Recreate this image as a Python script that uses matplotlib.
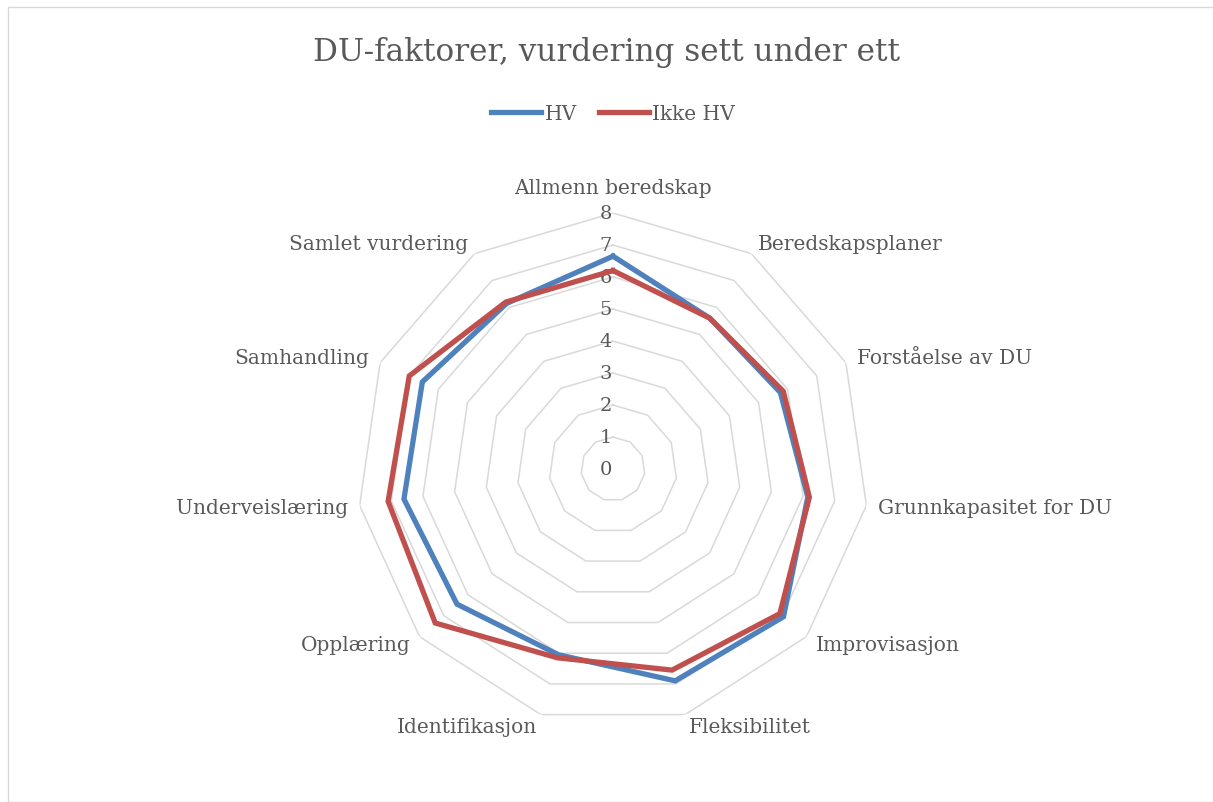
import numpy as np
import matplotlib
matplotlib.use('Agg')
import matplotlib.pyplot as plt
from matplotlib.patches import Rectangle

# Data
kategorier = ['Allmenn beredskap', 'Beredskapsplaner', 'Forståelse av DU',
              'Grunnkapasitet for DU', 'Improvisasjon', 'Fleksibilitet',
              'Identifikasjon', 'Opplæring', 'Underveislæring',
              'Samhandling', 'Samlet vurdering']
hv = [6.65, 5.6, 5.75, 6.15, 7.05, 6.9, 6.05, 6.45, 6.6, 6.55, 6.15]
ikke_hv = [6.2, 5.6, 5.85, 6.2, 6.9, 6.55, 6.15, 7.35, 7.1, 7.0, 6.2]
ringer = [1, 2, 3, 4, 5, 6, 7, 8]
ring_etiketter = ['0', '1', '2', '3', '4', '5', '6', '7', '8']

tekstfarge = '#595959'
plt.rcParams['font.family'] = ['DejaVu Serif']

fig = plt.figure(figsize=(12.13, 8.03), dpi=100)
fig.patches.append(Rectangle((8 / 1213, 0), 1, 1 - 8 / 803, transform=fig.transFigure,
                             fill=False, edgecolor='#D9D9D9', linewidth=1))

ax = fig.add_axes([357 / 1213, 77 / 803, 512 / 1213, 512 / 803], projection='polar')
ax.set_theta_zero_location('N')
ax.set_theta_direction(-1)
ax.set_ylim(0, 8)
ax.grid(False)
ax.spines['polar'].set_visible(False)
ax.set_xticks([])
ax.set_yticks([])

n = len(kategorier)
vinkler = np.linspace(0, 2 * np.pi, n, endpoint=False)
lukket = np.append(vinkler, vinkler[0])

# polygon-rutenett
for r in ringer:
    ax.plot(lukket, [r] * (n + 1), color='#D9D9D9', linewidth=1.1, zorder=1)

# verdiakse-etiketter
for i, lab in enumerate(ring_etiketter):
    ax.annotate(lab, (0, i), xytext=(-1, 0), textcoords='offset pixels',
                ha='right', va='center', fontsize=14, color=tekstfarge, zorder=2)

ax.plot(lukket, hv + hv[:1], color='#4F81BD', linewidth=3.8, label='HV', zorder=3,
        solid_joinstyle='miter')
ax.plot(lukket, ikke_hv + ikke_hv[:1], color='#C0504D', linewidth=3.8, label='Ikke HV',
        zorder=4, solid_joinstyle='miter')

# kategori-etiketter
for v, lab in zip(vinkler, kategorier):
    s, c = np.sin(v), np.cos(v)
    if abs(s) < 0.05:
        ax.annotate(lab, (v, 8), xytext=(0, 16), textcoords='offset pixels',
                    ha='center', va='bottom', fontsize=14.5, color=tekstfarge)
    else:
        ax.annotate(lab, (v, 8), xytext=(12 * s, 12 * c), textcoords='offset pixels',
                    ha='left' if s > 0 else 'right', va='center', fontsize=14.5,
                    color=tekstfarge)

fig.text(0.5, 1 - 52 / 803, 'DU-faktorer, vurdering sett under ett', ha='center',
         va='center', fontsize=22.4, color=tekstfarge)
leg = fig.legend(loc='center', bbox_to_anchor=(613 / 1213, 1 - 115 / 803), ncol=2,
                 frameon=False, fontsize=14.5, handlelength=2.5, handletextpad=0.15,
                 columnspacing=1.1)
for t in leg.get_texts():
    t.set_color(tekstfarge)

plt.savefig('out.png', dpi=100, facecolor='white')
